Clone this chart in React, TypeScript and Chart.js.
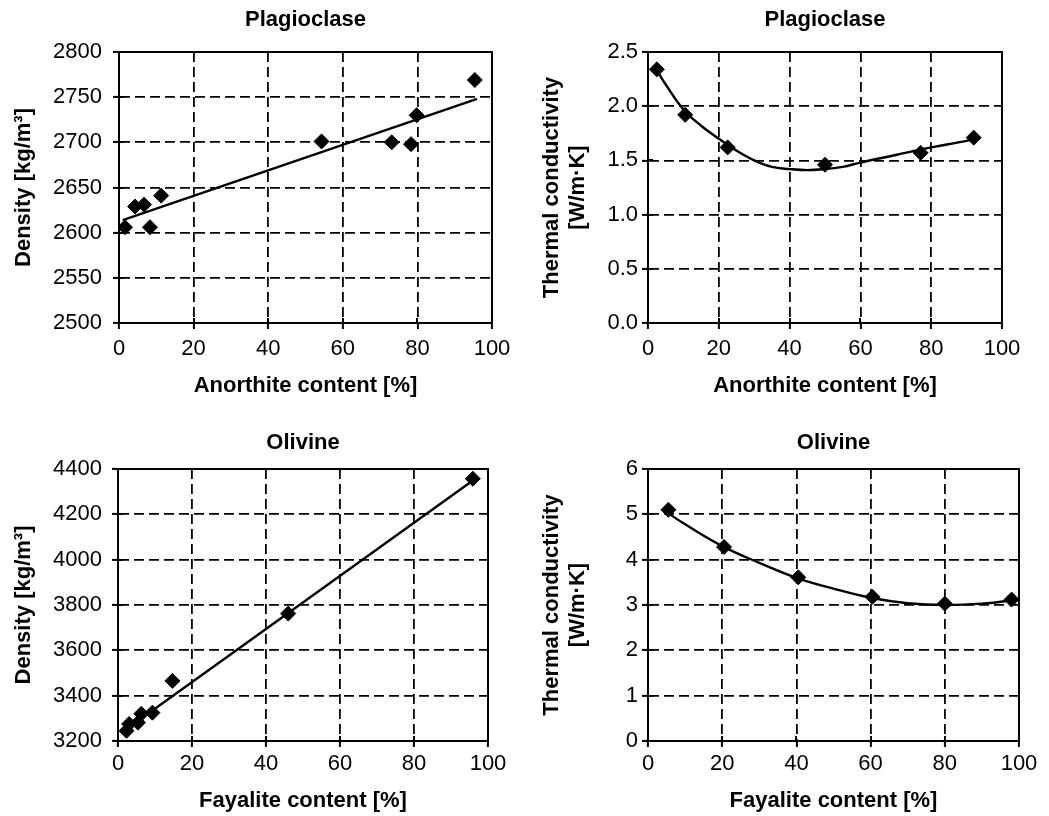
import React, { useEffect, useRef } from "react";
import { Chart, registerables } from "chart.js";

Chart.register(...registerables);
Chart.defaults.font.family = "'Liberation Sans', Arial, sans-serif";
Chart.defaults.color = "#000";

// ---- Data ----
// Plagioclase density
const plagDensityAnorthite = [1.6, 4.3, 6.7, 8.3, 11.3, 54.3, 73.1, 78.3, 79.8, 95.4];
const plagDensityValues = [2606, 2629, 2631, 2606, 2641, 2701, 2700, 2698, 2730, 2769];
const plagDensityFitX = [1, 96];
const plagDensityFitY = [2614, 2748];

// Plagioclase thermal conductivity
const plagCondAnorthite = [2.5, 10.5, 22.5, 50, 77, 92];
const plagCondValues = [2.34, 1.92, 1.62, 1.46, 1.57, 1.71];
const plagCondFitX = [2.5, 5, 10, 15, 20, 25, 30, 35, 40, 45, 50, 55, 60, 70, 80, 90, 92];
const plagCondFitY = [2.33, 2.2, 1.97, 1.82, 1.7, 1.59, 1.5, 1.44, 1.42, 1.41, 1.42, 1.44, 1.48, 1.55, 1.62, 1.68, 1.7];

// Olivine density
const olivDensityFayalite = [2.3, 3.0, 5.4, 6.3, 9.3, 14.7, 46.0, 95.9];
const olivDensityValues = [3245, 3275, 3281, 3320, 3325, 3465, 3762, 4357];
const olivDensityFitX = [1.5, 96];
const olivDensityFitY = [3243, 4350];

// Olivine thermal conductivity
const olivCondFayalite = [5.5, 20.5, 40.5, 60.5, 80, 98];
const olivCondValues = [5.1, 4.28, 3.61, 3.18, 3.03, 3.12];
const olivCondFitX = [5, 10, 20, 30, 40, 50, 60, 70, 80, 90, 98];
const olivCondFitY = [5.05, 4.78, 4.3, 3.93, 3.6, 3.36, 3.16, 3.04, 3.0, 3.03, 3.1];

// Axis ticks
const xTicks = { min: 0, max: 100, step: 20 };
const plagDensityTicks = { min: 2500, max: 2800, step: 50 };
const plagCondTicks = { min: 0, max: 2.5, step: 0.5 };
const olivDensityTicks = { min: 3200, max: 4400, step: 200 };
const olivCondTicks = { min: 0, max: 6, step: 1 };

const zip = (xs: number[], ys: number[]) => xs.map((x, i) => ({ x, y: ys[i] }));

const framePlugin = {
  id: "frame",
  afterDraw(chart: any) {
    const { ctx, chartArea } = chart;
    const { left, top, right, bottom } = chartArea;
    ctx.save();
    ctx.strokeStyle = "#000";
    ctx.lineWidth = 2;
    ctx.setLineDash([]);
    ctx.strokeRect(left, top, right - left, bottom - top);
    // inner tick marks
    const xs = chart.scales.x;
    const ys = chart.scales.y;
    xs.ticks.forEach((t: any) => {
      const px = Math.round(xs.getPixelForValue(t.value));
      ctx.beginPath();
      ctx.moveTo(px, bottom);
      ctx.lineTo(px, bottom - 5);
      ctx.stroke();
    });
    ys.ticks.forEach((t: any) => {
      const py = Math.round(ys.getPixelForValue(t.value));
      ctx.beginPath();
      ctx.moveTo(left, py);
      ctx.lineTo(left + 5, py);
      ctx.stroke();
    });
    ctx.restore();
  },
};

type Spec = {
  title: string;
  xTitle: string;
  yTitle: string | string[];
  points: { x: number; y: number }[];
  fit: { x: number; y: number }[];
  tension: number;
  yTicks: { min: number; max: number; step: number };
  yDecimals: number;
  yAxisWidth: number;
  yTitlePad: number;
  yTickPad: number;
  xAxisHeight: number;
  xTickPad: number;
  xTitlePadBottom: number;
  titlePadTop: number;
  titlePadBottom: number;
  padRight: number;
  padBottom: number;
};

function makeConfig(s: Spec): any {
  const gridOpts = { color: "#000", lineWidth: 1.8, tickLength: 6, tickColor: "#000", tickWidth: 2 };
  const borderOpts = { display: true, color: "#000", width: 2, dash: [10, 5] };
  return {
    type: "scatter",
    data: {
      datasets: [
        {
          type: "line",
          data: s.fit,
          borderColor: "#000",
          borderWidth: 2.4,
          pointRadius: 0,
          tension: s.tension,
          fill: false,
          order: 2,
        },
        {
          type: "scatter",
          data: s.points,
          pointStyle: "rectRot",
          pointRadius: 7.5,
          borderWidth: 1,
          backgroundColor: "#000",
          borderColor: "#000",
          order: 1,
        },
      ],
    },
    options: {
      animation: false,
      responsive: false,
      layout: { padding: { left: 0, top: 0, right: s.padRight, bottom: s.padBottom } },
      plugins: {
        legend: { display: false },
        tooltip: { enabled: false },
        title: {
          display: true,
          text: s.title,
          fullSize: false,
          color: "#000",
          font: { size: 22, weight: "bold" },
          padding: { top: s.titlePadTop, bottom: s.titlePadBottom },
        },
      },
      scales: {
        x: {
          type: "linear",
          min: xTicks.min,
          max: xTicks.max,
          ticks: {
            stepSize: xTicks.step,
            color: "#000",
            font: { size: 22 },
            padding: s.xTickPad,
            maxRotation: 0,
            callback: (v: number) => String(v),
          },
          grid: gridOpts,
          border: borderOpts,
          title: {
            display: true,
            text: s.xTitle,
            color: "#000",
            font: { size: 22, weight: "bold" },
            padding: { top: 0, bottom: s.xTitlePadBottom },
          },
          afterFit: (sc: any) => {
            sc.height = s.xAxisHeight;
          },
        },
        y: {
          type: "linear",
          min: s.yTicks.min,
          max: s.yTicks.max,
          ticks: {
            stepSize: s.yTicks.step,
            color: "#000",
            font: { size: 22 },
            padding: s.yTickPad,
            callback: (v: number) => v.toFixed(s.yDecimals),
          },
          grid: gridOpts,
          border: borderOpts,
          title: {
            display: true,
            text: s.yTitle,
            color: "#000",
            font: { size: 22, weight: "bold" },
            padding: { top: s.yTitlePad, bottom: 0 },
          },
          afterFit: (sc: any) => {
            sc.width = s.yAxisWidth;
          },
        },
      },
    },
    plugins: [framePlugin],
  };
}

function Panel({ spec, left, top, width, height }: { spec: Spec; left: number; top: number; width: number; height: number }) {
  const ref = useRef<HTMLCanvasElement | null>(null);
  useEffect(() => {
    if (!ref.current) return;
    const chart = new Chart(ref.current, makeConfig(spec));
    return () => chart.destroy();
  }, [spec]);
  return (
    <div style={{ position: "absolute", left, top, width, height }}>
      <canvas ref={ref} width={width} height={height} style={{ width, height, display: "block" }} />
    </div>
  );
}

const specTL: Spec = {
  title: "Plagioclase",
  xTitle: "Anorthite content [%]",
  yTitle: "Density [kg/m³]",
  points: zip(plagDensityAnorthite, plagDensityValues),
  fit: zip(plagDensityFitX, plagDensityFitY),
  tension: 0,
  yTicks: plagDensityTicks,
  yDecimals: 0,
  yAxisWidth: 119,
  yTitlePad: 10.8,
  yTickPad: 11,
  xAxisHeight: 80,
  xTickPad: 7,
  xTitlePadBottom: 4,
  titlePadTop: 6.8,
  titlePadBottom: 18.8,
  padRight: 32,
  padBottom: 5,
};

const specTR: Spec = {
  title: "Plagioclase",
  xTitle: "Anorthite content [%]",
  yTitle: ["Thermal conductivity", "[W/m·K]"],
  points: zip(plagCondAnorthite, plagCondValues),
  fit: zip(plagCondFitX, plagCondFitY),
  tension: 0.4,
  yTicks: plagCondTicks,
  yDecimals: 1,
  yAxisWidth: 124,
  yTitlePad: 14.8,
  yTickPad: 4,
  xAxisHeight: 80,
  xTickPad: 7,
  xTitlePadBottom: 4,
  titlePadTop: 6.8,
  titlePadBottom: 18.8,
  padRight: 47,
  padBottom: 5,
};

const specBL: Spec = {
  title: "Olivine",
  xTitle: "Fayalite content [%]",
  yTitle: "Density [kg/m³]",
  points: zip(olivDensityFayalite, olivDensityValues),
  fit: zip(olivDensityFitX, olivDensityFitY),
  tension: 0,
  yTicks: olivDensityTicks,
  yDecimals: 0,
  yAxisWidth: 118,
  yTitlePad: 10.8,
  yTickPad: 10,
  xAxisHeight: 74,
  xTickPad: 4,
  xTitlePadBottom: 0.8,
  titlePadTop: 21.8,
  titlePadBottom: 12.8,
  padRight: 36,
  padBottom: 1,
};

const specBR: Spec = {
  title: "Olivine",
  xTitle: "Fayalite content [%]",
  yTitle: ["Thermal conductivity", "[W/m·K]"],
  points: zip(olivCondFayalite, olivCondValues),
  fit: zip(olivCondFitX, olivCondFitY),
  tension: 0.4,
  yTicks: olivCondTicks,
  yDecimals: 0,
  yAxisWidth: 124,
  yTitlePad: 14.8,
  yTickPad: 4,
  xAxisHeight: 74,
  xTickPad: 4,
  xTitlePadBottom: 0.8,
  titlePadTop: 21.8,
  titlePadBottom: 12.8,
  padRight: 30,
  padBottom: 1,
};

export default function App() {
  return (
    <div style={{ position: "absolute", left: 0, top: 0, width: 1049, height: 816, background: "#fff", overflow: "hidden" }}>
      <Panel spec={specTL} left={0} top={0} width={524} height={408} />
      <Panel spec={specTR} left={524} top={0} width={525} height={408} />
      <Panel spec={specBL} left={0} top={408} width={524} height={408} />
      <Panel spec={specBR} left={524} top={408} width={525} height={408} />
    </div>
  );
}
